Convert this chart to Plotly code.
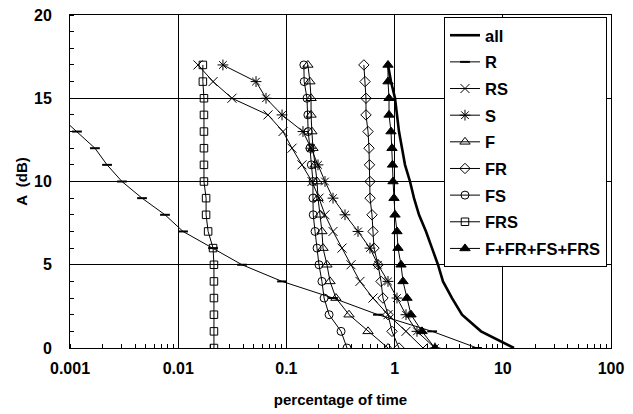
import plotly.graph_objects as go

# Attenuation levels (dB), from 17 down to 0
dB = [17, 16, 15, 14, 13, 12, 11, 10, 9, 8, 7, 6, 5, 4, 3, 2, 1, 0]
R_dB = [14, 13, 12, 11, 10, 9, 8, 7, 6, 5, 4, 3, 2, 1, 0]

# percentage of time for each series
all_pct = [0.869, 0.926, 1.009, 1.052, 1.098, 1.171, 1.248, 1.388, 1.511, 1.681,
           1.951, 2.216, 2.518, 2.80, 3.393, 4.197, 6.29, 12.69]
R_pct = [0.00078, 0.00116, 0.0017, 0.0022, 0.00302, 0.00463, 0.00755, 0.01108,
         0.0210, 0.0389, 0.0911, 0.2696, 0.702, 2.22, 5.78]
RS_pct = [0.01524, 0.0210, 0.0314, 0.0676, 0.0930, 0.1127, 0.1393, 0.1724, 0.2001,
          0.2274, 0.2696, 0.3265, 0.3954, 0.4786, 0.631, 0.869, 1.274, 1.83]
S_pct = [0.0259, 0.0524, 0.0648, 0.0911, 0.1423, 0.1688, 0.1959, 0.2274, 0.2696,
         0.348, 0.459, 0.592, 0.702, 0.869, 1.052, 1.274, 1.61, 2.36]
F_pct = [0.158, 0.165, 0.169, 0.169, 0.172, 0.176, 0.184, 0.192, 0.196, 0.204,
         0.213, 0.218, 0.237, 0.253, 0.287, 0.379, 0.568, 0.869]
FR_pct = [0.52, 0.533, 0.544, 0.544, 0.568, 0.58, 0.586, 0.593, 0.593, 0.618,
          0.632, 0.645, 0.702, 0.749, 0.781, 0.869, 0.946, 1.098]
FS_pct = [0.145, 0.146, 0.155, 0.158, 0.159, 0.165, 0.17, 0.176, 0.176, 0.177,
          0.184, 0.192, 0.200, 0.213, 0.223, 0.248, 0.320, 0.363]
FRS_pct = [0.0169, 0.0169, 0.0173, 0.0173, 0.0173, 0.0173, 0.0173, 0.0173, 0.0181,
           0.0181, 0.0189, 0.0210, 0.0214, 0.0214, 0.0214, 0.0214, 0.0214, 0.0214]
SUM_pct = [0.869, 0.869, 0.888, 0.888, 0.926, 0.946, 0.956, 0.967, 0.987, 1.009,
           1.052, 1.075, 1.146, 1.196, 1.302, 1.418, 1.792, 2.36]

x_tickvals = [0.001, 0.01, 0.1, 1, 10, 100]
x_ticktext = ["0.001", "0.01", "0.1", "1", "10", "100"]
y_tickvals = [0, 5, 10, 15, 20]

FONT = "Liberation Sans, Arial, sans-serif"

fig = go.Figure()

def add(name, x, y, symbol=None, size=8, lw=1, mlw=1):
    mode = "lines" if symbol is None else "lines+markers"
    tr = dict(x=x, y=y, name=name, mode=mode, legendgroup=name,
              line=dict(color="black", width=lw))
    if symbol is not None:
        tr["marker"] = dict(symbol=symbol, size=size, color="black",
                            line=dict(color="black", width=mlw))
    fig.add_trace(go.Scatter(**tr))

add("all", all_pct, dB, lw=2.6)
add("R", R_pct, R_dB, symbol="line-ew-open", size=7, mlw=2)
add("RS", RS_pct, dB, symbol="x-thin-open", size=9, mlw=1)
add("S", S_pct, dB, symbol="asterisk-open", size=9, mlw=1)
add("F", F_pct, dB, symbol="triangle-up-open", size=9)
add("FR", FR_pct, dB, symbol="diamond-open", size=8)
add("FS", FS_pct, dB, symbol="circle-open", size=8)
add("FRS", FRS_pct, dB, symbol="square-open", size=7.5)
add("F+FR+FS+FRS", SUM_pct, dB, symbol="triangle-up", size=9)

fig.update_layout(
    width=633, height=414,
    margin=dict(l=70, r=22, t=15, b=66, autoexpand=False),
    paper_bgcolor="white", plot_bgcolor="white",
    font=dict(family=FONT, size=15, color="black", weight="bold"),
    showlegend=True,
    legend=dict(x=0.9926, xanchor="right", y=0.994, yanchor="top",
                bgcolor="white", bordercolor="black", borderwidth=1,
                font=dict(family=FONT, size=16.5, color="black", weight="bold"),
                tracegroupgap=2.2, traceorder="grouped"),
)

fig.update_xaxes(
    type="log", range=[-3, 2], automargin=False,
    tickvals=x_tickvals, ticktext=x_ticktext,
    showgrid=True, gridcolor="black", gridwidth=1,
    showline=True, linecolor="black", linewidth=1, mirror=True,
    ticks="", ticklabelstandoff=6,
    tickfont=dict(family=FONT, size=16, color="black", weight="bold"),
    minor=dict(ticks="inside", ticklen=4, tickcolor="black", tickwidth=1,
               dtick="D1", showgrid=False),
    zeroline=False,
    title=dict(text="percentage of time", standoff=18,
               font=dict(family=FONT, size=15, color="black", weight="bold")),
)
fig.update_yaxes(
    range=[0, 20], tickvals=y_tickvals, automargin=False,
    showgrid=True, gridcolor="black", gridwidth=1,
    showline=True, linecolor="black", linewidth=1, mirror=True,
    ticks="", ticklabelstandoff=14,
    tickfont=dict(family=FONT, size=16, color="black", weight="bold"),
    minor=dict(ticks="inside", ticklen=4, tickcolor="black", tickwidth=1,
               dtick=1, showgrid=False),
    zeroline=False,
    title=dict(text="A  (dB)", standoff=2,
               font=dict(family=FONT, size=15, color="black", weight="bold")),
)

fig.write_html(
    "out.html",
    config={"displayModeBar": False},
    post_script="document.body.style.margin='0';document.body.style.padding='0';",
)
